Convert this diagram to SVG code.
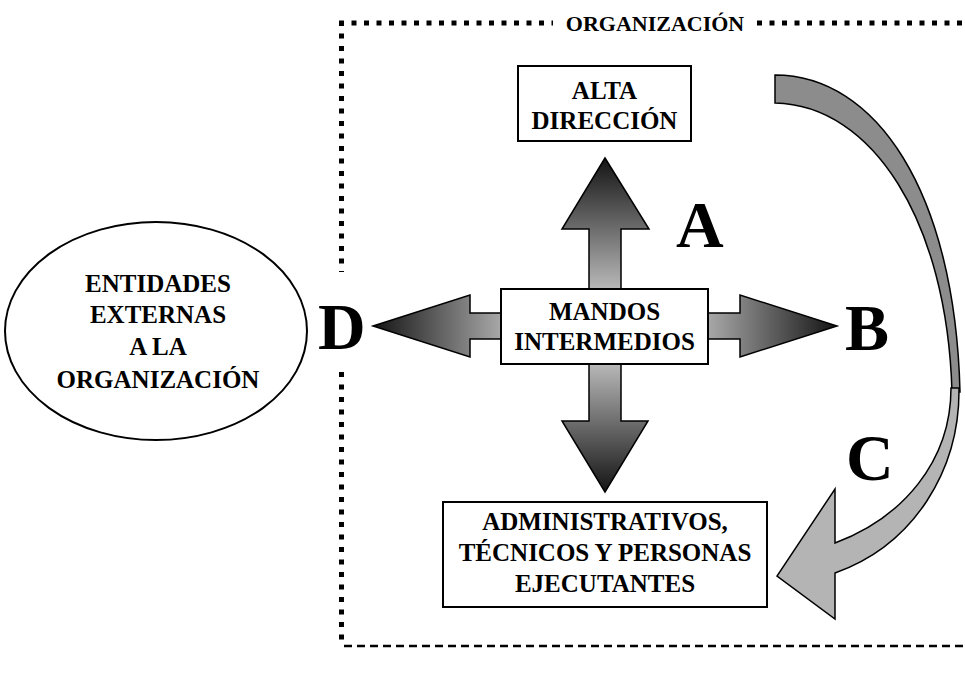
<svg xmlns="http://www.w3.org/2000/svg" width="965" height="677" viewBox="0 0 965 677">
  <style>
    .lbl { font-family: "Liberation Serif", "Times New Roman", serif; font-weight: bold; font-size: 25px; fill: #000; text-anchor: middle; }
    .big { font-family: "Liberation Serif", "Times New Roman", serif; font-weight: bold; font-size: 66px; fill: #000; }
    .box { fill: #fff; stroke: #000; stroke-width: 2; }
    .arr { stroke: #000; stroke-width: 1.5; stroke-linejoin: miter; }
    .dots { fill: none; stroke: #000; stroke-width: 5; stroke-dasharray: 5 7.5; }
    .dash { fill: none; stroke: #000; stroke-width: 2.5; stroke-dasharray: 8 5; }
  </style>
  <defs>
    <linearGradient id="gUp" x1="0" y1="0" x2="0" y2="1">
      <stop offset="0" stop-color="#141414"/>
      <stop offset="1" stop-color="#b8b8b8"/>
    </linearGradient>
    <linearGradient id="gDown" x1="0" y1="0" x2="0" y2="1">
      <stop offset="0" stop-color="#b8b8b8"/>
      <stop offset="1" stop-color="#141414"/>
    </linearGradient>
    <linearGradient id="gLeft" x1="0" y1="0" x2="1" y2="0">
      <stop offset="0" stop-color="#141414"/>
      <stop offset="1" stop-color="#a8a8a8"/>
    </linearGradient>
    <linearGradient id="gRight" x1="0" y1="0" x2="1" y2="0">
      <stop offset="0" stop-color="#a8a8a8"/>
      <stop offset="1" stop-color="#141414"/>
    </linearGradient>
  </defs>

  <!-- organisation boundary -->
  <g id="boundary">
    <path class="dots" d="M 339 23 L 553 23"/>
    <path class="dots" d="M 757 23 L 965 23"/>
    <path class="dots" d="M 341.5 21 L 341.5 272"/>
    <path class="dots" d="M 341.5 372 L 341.5 644"/>
    <path class="dash" d="M 344 646 L 965 646"/>
    <text class="lbl" x="655" y="31" style="font-size:22px">ORGANIZACIÓN</text>
  </g>

  <!-- flows between levels -->
  <g id="connectors">
    <polygon class="arr" fill="url(#gUp)" points="605,158 649,229 621,229 621,289 589,289 589,229 562,229"/>
    <polygon class="arr" fill="url(#gDown)" points="589,364 621,364 621,421 648,421 605,492 562,421 589,421"/>
    <polygon class="arr" fill="url(#gLeft)" points="373,326 470,295 470,313 501,313 501,339 470,339 470,357"/>
    <polygon class="arr" fill="url(#gRight)" points="708,313 740,313 740,295 837,326 740,357 740,339 708,339"/>
    <!-- curved ribbon arrow C -->
    <path class="arr" fill="#8c8c8c" d="M 775 75 C 875 75 955 190 960 392 L 952 392 C 947 220 872 105 775 103 Z"/>
    <path class="arr" fill="#b4b4b4" d="M 951 388 C 951 462 902 518 835 543 L 835 489 L 777 576 L 835 619 L 835 573 C 914 545 960 470 959 388 Z"/>
  </g>

  <g id="label-A"><text class="big" x="676" y="247">A</text></g>
  <g id="label-B"><text class="big" x="845" y="350">B</text></g>
  <g id="label-C"><text class="big" x="846" y="480">C</text></g>
  <g id="label-D"><text class="big" x="318" y="349">D</text></g>

  <g id="alta-direccion">
    <rect class="box" x="518" y="66" width="173" height="75"/>
    <text class="lbl" x="604.5" y="99">ALTA</text>
    <text class="lbl" x="604.5" y="129">DIRECCIÓN</text>
  </g>

  <g id="mandos-intermedios">
    <rect class="box" x="501" y="289" width="207" height="75"/>
    <text class="lbl" x="604.5" y="320">MANDOS</text>
    <text class="lbl" x="604.5" y="350">INTERMEDIOS</text>
  </g>

  <g id="ejecutantes">
    <rect class="box" x="443" y="502" width="324" height="105"/>
    <text class="lbl" x="605" y="530">ADMINISTRATIVOS,</text>
    <text class="lbl" x="605" y="561">TÉCNICOS Y PERSONAS</text>
    <text class="lbl" x="605" y="592">EJECUTANTES</text>
  </g>

  <g id="entidades-externas">
    <ellipse cx="156" cy="331" rx="151" ry="109" fill="#fff" stroke="#000" stroke-width="2"/>
    <text class="lbl" x="158" y="292">ENTIDADES</text>
    <text class="lbl" x="158" y="323">EXTERNAS</text>
    <text class="lbl" x="158" y="355">A LA</text>
    <text class="lbl" x="158" y="388">ORGANIZACIÓN</text>
  </g>
</svg>
